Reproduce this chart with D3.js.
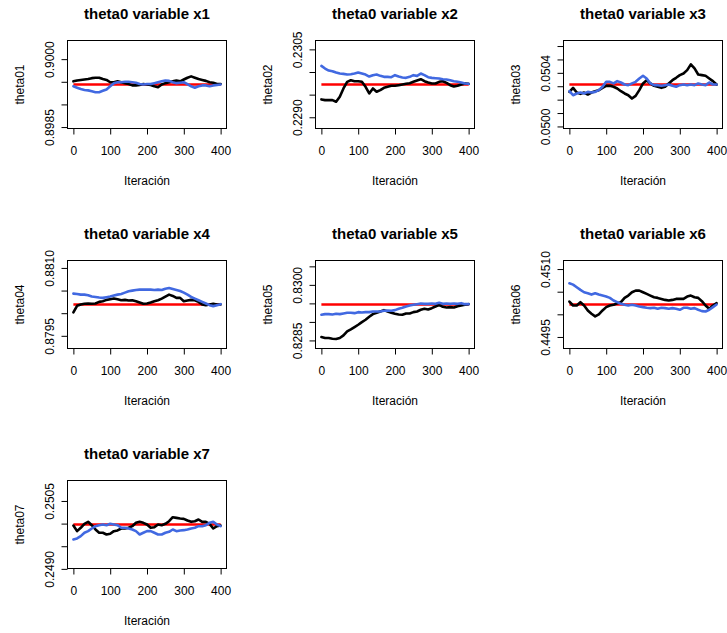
<!DOCTYPE html>
<html>
<head>
<meta charset="utf-8">
<script src="https://cdn.jsdelivr.net/npm/d3@7"></script>
<style>
  body { margin: 0; background: #fff; }
  svg { display: block; font-family: "Liberation Sans", Arial, sans-serif; }
</style>
</head>
<body>
<svg width="727" height="633"></svg>
<script>
// iteraciones muestreadas cada 10 pasos
const iteraciones = [0,10,20,30,40,50,60,70,80,90,100,110,120,130,140,150,160,170,180,190,200,
  210,220,230,240,250,260,270,280,290,300,310,320,330,340,350,360,370,380,390,400];

const titulos = ["theta0 variable x1","theta0 variable x2","theta0 variable x3","theta0 variable x4",
  "theta0 variable x5","theta0 variable x6","theta0 variable x7"];
const etiquetasY = ["theta01","theta02","theta03","theta04","theta05","theta06","theta07"];

// valor real (linea roja) y semi-amplitud del ylim
const valorReal = [0.89944, 0.229724, 0.050313, 0.880192, 0.82947, 0.450217, 0.24998];
const semiRango = [0.0009, 0.0009, 0.000304, 0.0009, 0.0011, 0.0009, 0.0009];

const ticksX = [0, 100, 200, 300, 400];
const ticksY = [
  [0.8985, 0.8990, 0.8995, 0.9000],
  [0.2290, 0.2295, 0.2300, 0.2305],
  [0.0500, 0.0501, 0.0502, 0.0503, 0.0504, 0.0505, 0.0506],
  [0.8795, 0.8800, 0.8805, 0.8810],
  [0.8285, 0.8290, 0.8295, 0.8300, 0.8305],
  [0.4495, 0.4500, 0.4505, 0.4510],
  [0.2490, 0.2495, 0.2500, 0.2505]
];
// ticks que llevan texto (R omite los que se solapan)
const ticksConTexto = [
  [0.8985, 0.9000],
  [0.2290, 0.2305],
  [0.0500, 0.0504],
  [0.8795, 0.8810],
  [0.8285, 0.8300],
  [0.4495, 0.4510],
  [0.2490, 0.2505]
];

// cadena 1 (negro)
const negro1 = [0.89951,0.89953,0.89954,0.89955,0.89956,0.89958,0.89959,0.89959,0.89956,0.89954,0.89949,0.89949,0.89951,0.89949,0.89947,0.89945,0.89942,0.89942,0.89943,0.89945,0.89944,0.89943,0.8994,0.89938,0.89944,0.89947,0.89949,0.89951,0.89953,0.89951,0.89955,0.89959,0.89962,0.89959,0.89956,0.89954,0.89952,0.89949,0.89948,0.89945,0.89945];
const negro2 = [0.229394,0.229379,0.229379,0.229379,0.229342,0.229452,0.229636,0.229783,0.229819,0.229797,0.229797,0.229783,0.229673,0.229526,0.229636,0.229563,0.229599,0.229651,0.229673,0.229695,0.229695,0.229709,0.229724,0.229739,0.229753,0.229783,0.229812,0.229841,0.229797,0.229768,0.229746,0.229746,0.229783,0.229797,0.22976,0.229709,0.22968,0.229695,0.229724,0.229746,0.229739];
const negro3 = [0.050258,0.050288,0.050253,0.050243,0.050253,0.050238,0.050253,0.050263,0.050271,0.050288,0.050303,0.050303,0.050296,0.050283,0.050263,0.050246,0.050233,0.050208,0.050228,0.050271,0.050321,0.050345,0.050321,0.050303,0.050296,0.050288,0.050296,0.050321,0.050345,0.050363,0.050383,0.050395,0.05042,0.050463,0.050433,0.050388,0.050383,0.050378,0.050358,0.050338,0.050313];
const negro4 = [0.880017,0.880163,0.880192,0.880207,0.880214,0.880207,0.880214,0.88025,0.880265,0.880294,0.880308,0.880323,0.880308,0.880287,0.880294,0.880279,0.880287,0.880265,0.880236,0.880207,0.880214,0.880236,0.880265,0.880287,0.880323,0.880367,0.88041,0.880381,0.880338,0.880338,0.880265,0.880279,0.880294,0.880287,0.88025,0.880192,0.880177,0.880192,0.880207,0.880192,0.880192];
const negro5 = [0.828592,0.828565,0.828565,0.828547,0.828538,0.828565,0.828637,0.828744,0.828798,0.828861,0.828923,0.828995,0.829058,0.829138,0.82921,0.829246,0.829282,0.829318,0.829282,0.829246,0.829219,0.829201,0.829192,0.829228,0.829228,0.829264,0.829282,0.829327,0.829354,0.829336,0.829371,0.829416,0.829461,0.829407,0.829389,0.829398,0.829389,0.829425,0.829443,0.829461,0.829479];
const negro6 = [0.450283,0.450195,0.450195,0.450268,0.450195,0.450085,0.450012,0.449954,0.449998,0.450085,0.450159,0.450195,0.45021,0.450246,0.450268,0.450363,0.450414,0.450487,0.450524,0.450524,0.450487,0.450451,0.450414,0.450378,0.450363,0.450341,0.450319,0.450305,0.450319,0.450341,0.450341,0.450341,0.450392,0.450414,0.450378,0.450363,0.45029,0.450195,0.450122,0.450195,0.450246];
const negro7 = [0.249958,0.249833,0.249907,0.249995,0.250039,0.249965,0.24987,0.249797,0.249797,0.24976,0.249775,0.249833,0.249848,0.249892,0.249892,0.249907,0.249943,0.250017,0.250039,0.250017,0.24998,0.249907,0.249921,0.24998,0.249965,0.249995,0.250053,0.250141,0.250127,0.250112,0.250105,0.250068,0.250039,0.250053,0.25009,0.250039,0.250039,0.249995,0.249892,0.249943,0.249958];

// cadena 2 (azul)
const azul1 = [0.8994,0.89937,0.89934,0.89932,0.89931,0.89929,0.89927,0.89927,0.8993,0.89933,0.8994,0.89947,0.89949,0.89949,0.8995,0.8995,0.89949,0.89948,0.89945,0.89944,0.89945,0.89945,0.89947,0.89949,0.89951,0.89953,0.89952,0.89949,0.89947,0.89948,0.89949,0.89945,0.8994,0.89937,0.8994,0.89942,0.89942,0.8994,0.89942,0.89943,0.89944];
const azul2 = [0.230135,0.230076,0.230032,0.230018,0.229988,0.229966,0.229959,0.229944,0.229952,0.229966,0.229988,0.229966,0.229944,0.2299,0.22993,0.229944,0.229915,0.229893,0.229893,0.229885,0.22993,0.2299,0.229878,0.229871,0.229893,0.22993,0.229915,0.229966,0.22993,0.229885,0.229871,0.229863,0.229856,0.229841,0.229834,0.229819,0.229797,0.229783,0.229768,0.229746,0.229739];
const azul3 = [0.050263,0.050233,0.050246,0.050253,0.050246,0.050258,0.050253,0.050258,0.050271,0.050296,0.050333,0.050333,0.050321,0.050338,0.050328,0.050313,0.050308,0.050321,0.050333,0.050358,0.050378,0.050358,0.050321,0.050308,0.050308,0.050303,0.050308,0.050313,0.050303,0.050296,0.050308,0.050313,0.050308,0.050313,0.050308,0.050321,0.050313,0.050308,0.050328,0.050313,0.050313];
const azul4 = [0.880432,0.880425,0.88041,0.88041,0.880396,0.880367,0.880359,0.880345,0.880338,0.880352,0.880367,0.880389,0.88041,0.880425,0.880454,0.880483,0.880498,0.880512,0.88052,0.88052,0.88052,0.88052,0.880512,0.88052,0.880512,0.880541,0.880556,0.880534,0.880512,0.88049,0.880454,0.88041,0.880359,0.880323,0.880287,0.88025,0.880214,0.880177,0.880156,0.880177,0.880199];
const azul5 = [0.829192,0.82921,0.82921,0.829201,0.829219,0.82921,0.829228,0.829246,0.829246,0.829237,0.829264,0.829255,0.829264,0.829264,0.829282,0.829282,0.829282,0.8293,0.829309,0.8293,0.829318,0.829354,0.82938,0.829416,0.829443,0.829461,0.829479,0.829497,0.829488,0.829488,0.829497,0.829488,0.829515,0.829488,0.829497,0.829488,0.829497,0.829488,0.829506,0.829479,0.829479];
const azul6 = [0.450685,0.450656,0.450597,0.450539,0.450487,0.450466,0.450436,0.450466,0.450436,0.450414,0.450392,0.450363,0.450305,0.450268,0.450232,0.45021,0.450195,0.45021,0.450195,0.450173,0.450159,0.450144,0.450137,0.450144,0.450122,0.450144,0.450137,0.450122,0.450137,0.450122,0.4501,0.450144,0.450144,0.450122,0.450137,0.4501,0.450071,0.450063,0.4501,0.450159,0.450217];
const azul7 = [0.24965,0.249672,0.249723,0.249797,0.249833,0.249892,0.249943,0.249965,0.24998,0.249965,0.249995,0.24998,0.249965,0.249907,0.249907,0.249892,0.24987,0.249833,0.24976,0.249797,0.249833,0.249833,0.249797,0.24976,0.24976,0.249797,0.249819,0.24987,0.249833,0.249848,0.249855,0.24987,0.249892,0.249907,0.249943,0.249943,0.249965,0.250017,0.250039,0.24998,0.249943];

const negros = [negro1, negro2, negro3, negro4, negro5, negro6, negro7];
const azules = [azul1, azul2, azul3, azul4, azul5, azul6, azul7];

// geometria de la rejilla 3x3 (par(mfrow=c(3,3)))
let svg = d3.select("svg");
const colIzq = [67.5, 315.5, 563.5],
    filaSup = [40.5, 260.5, 480.5],
    ancho = 159,
    alto = 88;

for (let i = 0; i < titulos.length; i++) {
    let g = svg.append("g")
        .attr("transform", "translate(" + colIzq[i % 3] + "," + filaSup[Math.floor(i / 3)] + ")");

    // escalas con el 4% de margen que pone R
    let padX = 0.04 * (ticksX[ticksX.length - 1] - ticksX[0]);
    let x = d3.scaleLinear()
        .domain([ticksX[0] - padX, ticksX[ticksX.length - 1] + padX])
        .range([0, ancho]);
    let padY = semiRango[i] * 1.08;
    let y = d3.scaleLinear()
        .domain([valorReal[i] - padY, valorReal[i] + padY])
        .range([alto, 0]);

    let linea = d3.line()
        .x((d, j) => x(iteraciones[j]))
        .y(d => y(d));

    // linea roja del valor real
    g.append("path")
        .datum(iteraciones.map(() => valorReal[i]))
        .attr("d", linea)
        .attr("fill", "none")
        .attr("stroke", "#ff0000")
        .attr("stroke-width", 2.6);

    g.append("path")
        .datum(negros[i])
        .attr("d", linea)
        .attr("fill", "none")
        .attr("stroke", "#000")
        .attr("stroke-width", 2.6)
        .attr("stroke-linejoin", "round")
        .attr("stroke-linecap", "round");

    g.append("path")
        .datum(azules[i])
        .attr("d", linea)
        .attr("fill", "none")
        .attr("stroke", "#4169e1")
        .attr("stroke-width", 2.6)
        .attr("stroke-linejoin", "round")
        .attr("stroke-linecap", "round");

    // caja
    g.append("rect")
        .attr("width", ancho)
        .attr("height", alto)
        .attr("fill", "none")
        .attr("stroke", "#000")
        .attr("stroke-width", 1);

    // eje x
    let ejeX = g.append("g")
        .attr("transform", "translate(0," + alto + ")")
        .call(d3.axisBottom(x).tickValues(ticksX).tickSize(6).tickSizeOuter(0));
    ejeX.select(".domain").remove();
    ejeX.selectAll("line").attr("stroke", "#000");
    ejeX.selectAll("text")
        .attr("y", 26.5)
        .attr("dy", 0)
        .attr("fill", "#000")
        .attr("font-size", "12px")
        .attr("font-family", "Liberation Sans, Arial, sans-serif");

    // eje y (etiquetas giradas como en R)
    let conTexto = ticksConTexto[i];
    let ejeY = g.append("g")
        .call(d3.axisLeft(y).tickValues(ticksY[i]).tickSize(6).tickSizeOuter(0)
            .tickFormat(d => conTexto.some(v => Math.abs(v - d) < 1e-9) ? d3.format(".4f")(d) : ""));
    ejeY.select(".domain").remove();
    ejeY.selectAll("line").attr("stroke", "#000");
    ejeY.selectAll("text")
        .attr("transform", "rotate(-90)")
        .attr("x", 0)
        .attr("y", -14)
        .attr("dy", 0)
        .attr("text-anchor", "middle")
        .attr("fill", "#000")
        .attr("font-size", "12px")
        .attr("font-family", "Liberation Sans, Arial, sans-serif");

    // titulo y etiquetas de ejes
    g.append("text")
        .attr("x", ancho / 2)
        .attr("y", -21.5)
        .attr("text-anchor", "middle")
        .attr("font-size", "15px")
        .attr("font-weight", "bold")
        .attr("fill", "#000")
        .text(titulos[i]);

    g.append("text")
        .attr("x", ancho / 2)
        .attr("y", alto + 56)
        .attr("text-anchor", "middle")
        .attr("font-size", "12px")
        .attr("fill", "#000")
        .text("Iteración");

    g.append("text")
        .attr("transform", "rotate(-90)")
        .attr("x", -alto / 2)
        .attr("y", -43.5)
        .attr("text-anchor", "middle")
        .attr("font-size", "12px")
        .attr("fill", "#000")
        .text(etiquetasY[i]);
}
</script>
</body>
</html>
